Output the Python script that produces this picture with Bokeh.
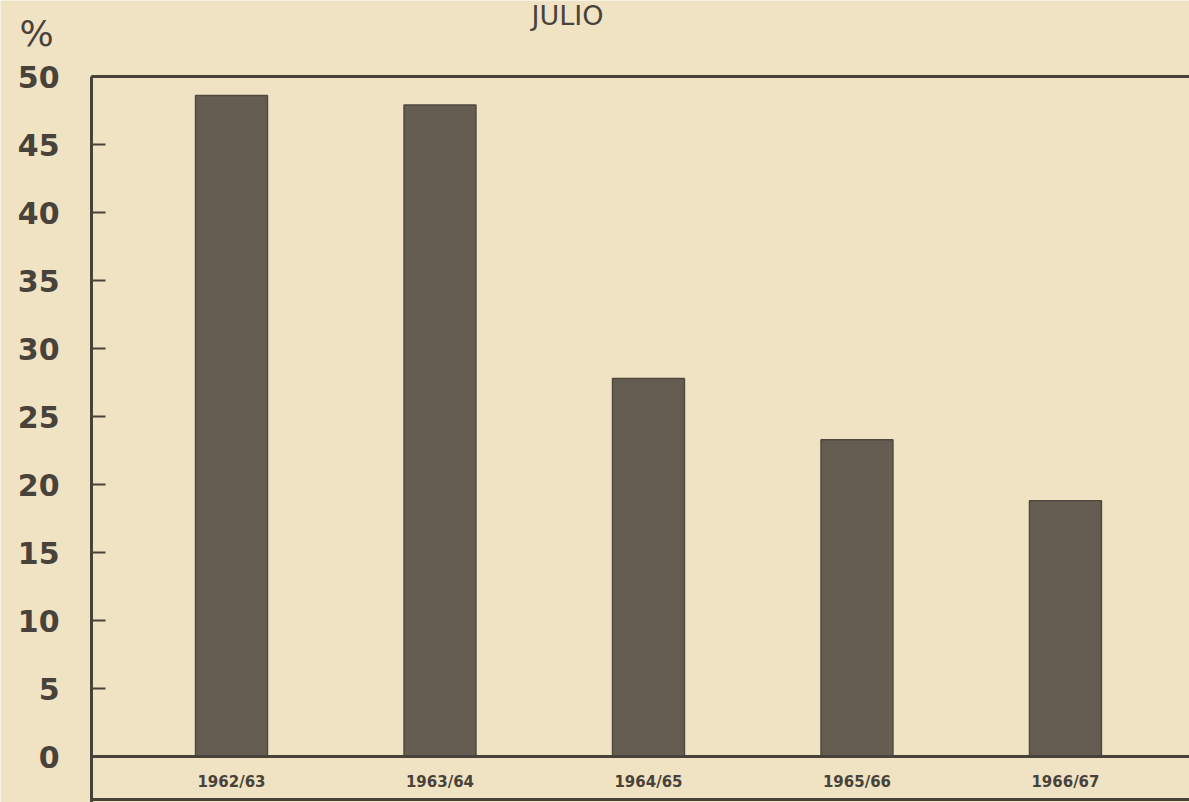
from bokeh.plotting import figure
from bokeh.models import Range1d, LinearAxis, FixedTicker, Label
from bokeh.embed import file_html
from bokeh.resources import INLINE

# ---- data ----
seasons = ["1962/63", "1963/64", "1964/65", "1965/66", "1966/67"]
percent = [48.6, 47.9, 27.8, 23.3, 18.8]
y_ticks = [0, 5, 10, 15, 20, 25, 30, 35, 40, 45, 50]
title_text = "JULIO"
unit_text = "%"

# ---- style ----
PAPER = "#efe3c4"
INK = "#48423a"
BAR = "#655d52"
FONT = "DejaVu Sans"

xs = list(range(len(seasons)))

X0, X1 = -1.108, 4.595      # visible x extent (category index units)
XAXIS = -0.671              # where the vertical axis sits
Y0, Y1 = -3.38, 55.59       # visible y extent
Y_RULE = -3.16              # bottom rule under the season labels

p = figure(width=1189, height=802, output_backend="svg", toolbar_location=None,
           x_range=Range1d(X0, X1), y_range=Range1d(Y0, Y1),
           min_border_left=0, min_border_top=0, min_border_bottom=0,
           min_border_right=0)
p.background_fill_color = PAPER
p.border_fill_color = PAPER
p.outline_line_color = None
p.grid.visible = False

p.vbar(x=xs, top=percent, width=0.345, bottom=0,
       fill_color=BAR, line_color="#4f483f", line_width=1.5)

# y axis (fixed at the left edge of the chart box)
ya = p.yaxis[0]
ya.fixed_location = XAXIS
ya.bounds = (Y0, 50)
ya.ticker = FixedTicker(ticks=y_ticks)
ya.axis_line_color = INK
ya.axis_line_width = 3
ya.major_tick_in = 14
ya.major_tick_out = 0
ya.major_tick_line_width = 2
ya.major_tick_line_color = INK
ya.minor_tick_line_color = None
ya.major_label_text_font = FONT
ya.major_label_text_font_style = "bold"
ya.major_label_text_font_size = "30px"
ya.major_label_text_color = INK
ya.major_label_standoff = 32

# x axis at 0 %
xa = p.xaxis[0]
xa.fixed_location = 0
xa.bounds = (XAXIS, X1)
xa.ticker = FixedTicker(ticks=xs)
xa.major_label_overrides = {i: s for i, s in zip(xs, seasons)}
xa.axis_line_color = INK
xa.axis_line_width = 3
xa.major_tick_line_color = None
xa.minor_tick_line_color = None
xa.major_tick_in = 0
xa.major_tick_out = 0
xa.major_label_text_font = FONT
xa.major_label_text_font_style = "bold"
xa.major_label_text_font_size = "15px"
xa.major_label_text_color = INK
xa.major_label_standoff = 16

# bottom rule under the season labels
bottom = LinearAxis(ticker=FixedTicker(ticks=[]), axis_line_color=INK, axis_line_width=3,
                    major_tick_line_color=None, minor_tick_line_color=None,
                    major_label_text_font_size="0px", fixed_location=Y_RULE,
                    bounds=(XAXIS, X1))
p.add_layout(bottom, "below")

# top frame line at 50 %
top = LinearAxis(ticker=FixedTicker(ticks=[]), axis_line_color=INK, axis_line_width=3,
                 major_tick_line_color=None, minor_tick_line_color=None,
                 major_label_text_font_size="0px", fixed_location=50,
                 bounds=(XAXIS, X1))
p.add_layout(top, "above")

p.add_layout(Label(x=1.612, y=54.49, text=title_text, text_align="center",
                   text_baseline="middle", text_font=FONT, text_font_size="27px",
                   text_color=INK))
p.add_layout(Label(x=-0.935, y=53.16, text=unit_text, text_align="center",
                   text_baseline="middle", text_font=FONT, text_font_size="36px",
                   text_color=INK))

open("out.html", "w").write(file_html(p, INLINE))
